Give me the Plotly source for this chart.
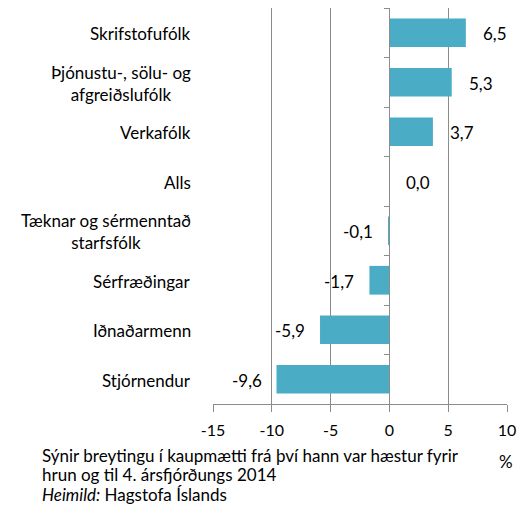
import plotly.graph_objects as go

categories = ["Skrifstofufólk", "Þjónustu-, sölu- og<br>afgreiðslufólk", "Verkafólk", "Alls",
              "Tæknar og sérmenntað<br>starfsfólk", "Sérfræðingar", "Iðnaðarmenn", "Stjórnendur"]
values = [6.5, 5.3, 3.7, 0.0, -0.1, -1.7, -5.9, -9.6]
x_tickvals = [-15, -10, -5, 0, 5, 10]
x_ticktext = ["-15", "-10", "-5", "0", "5", "10"]
footer_lines = ["Sýnir breytingu í kaupmætti frá því hann var hæstur fyrir",
                "hrun og til 4. ársfjórðungs 2014",
                "<i>Heimild:</i> Hagstofa Íslands"]
unit_label = "%"

# page body has an 8px margin; work in viewport pixels
OFF = 8
W, H = 531 - OFF, 510 - OFF
PL, PR, PT, PB = 213, 507, 8, 404  # plot area in viewport px
ML, MR, MT, MB = PL - OFF, W - (PR - OFF), PT - OFF, H - (PB - OFF)
PW = W - ML - MR
PH = H - MT - MB

def px_x(px):
    return (px - OFF - ML) / PW

def px_y(py):
    return 1 - (py - OFF - MT) / PH

FONT = "Lato"
FS = 17
BAR = "#4BACC6"
GRID = "#8C8C8C"

fig = go.Figure()
fig.add_trace(go.Bar(
    x=values, y=categories, orientation="h",
    marker=dict(color=BAR, line=dict(width=0)),
    hoverinfo="skip",
))

annotations = []
for c, v in zip(categories, values):
    annotations.append(dict(
        x=px_x(193), xref="paper", y=c, yref="y",
        text=c, showarrow=False, xanchor="right", align="center",
        yshift=-1, font=dict(family=FONT, size=FS, color="#000000"),
    ))
    lbl = f"{v:.1f}".replace(".", ",")
    annotations.append(dict(
        x=v, xref="x", y=c, yref="y", text=lbl, showarrow=False,
        xanchor="left" if v >= 0 else "right",
        xshift=15 if v >= 0 else -13, yshift=-1,
        font=dict(family=FONT, size=FS, color="#000000"),
    ))

for i, line in enumerate(footer_lines):
    annotations.append(dict(
        x=px_x(41), xref="paper", y=px_y(455 + 19.5 * i), yref="paper",
        text=line, showarrow=False, xanchor="left", yanchor="middle", align="left",
        borderpad=0,
        font=dict(family=FONT, size=FS, color="#000000"),
    ))
annotations.append(dict(
    x=px_x(506), xref="paper", y=px_y(461), yref="paper",
    text=unit_label, showarrow=False, xanchor="center", yanchor="middle",
    borderpad=0,
    font=dict(family=FONT, size=FS, color="#000000"),
))

fig.update_layout(
    width=W, height=H,
    margin=dict(l=ML, r=MR, t=MT, b=MB, pad=0),
    paper_bgcolor="white", plot_bgcolor="white",
    showlegend=False, bargap=0.42,
    font=dict(family=FONT, size=FS, color="#000000"),
    annotations=annotations,
    xaxis=dict(
        range=[-15, 10], tickvals=x_tickvals, ticktext=x_ticktext,
        showgrid=True, gridcolor=GRID, gridwidth=1,
        zeroline=False, showline=True, linecolor=GRID, linewidth=1,
        ticks="outside", ticklen=7, tickcolor=GRID, tickwidth=1,
        tickfont=dict(family=FONT, size=16, color="#000000"),
        ticklabelstandoff=5,
        fixedrange=True,
    ),
    yaxis=dict(
        categoryorder="array", categoryarray=categories, autorange="reversed",
        anchor="free", position=0.6, side="left",
        showline=True, linecolor=GRID, linewidth=1,
        ticks="outside", ticklen=5, tickcolor=GRID, tickwidth=1,
        tickson="boundaries", showticklabels=False, showgrid=False,
        zeroline=False, fixedrange=True,
    ),
)

fig.write_html("out.html")
